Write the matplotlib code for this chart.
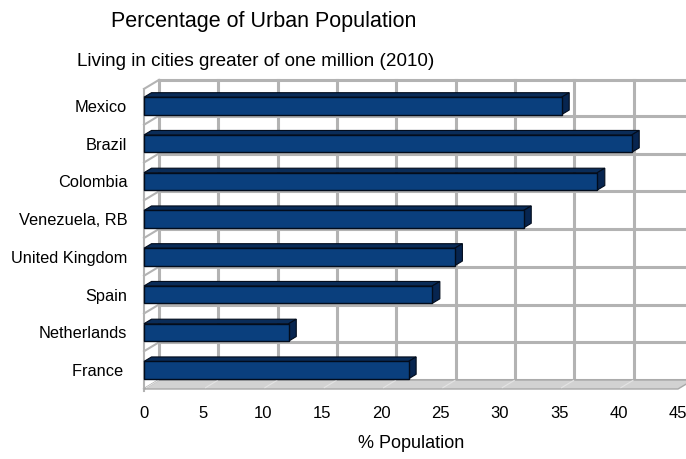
import matplotlib
matplotlib.use("Agg")
import matplotlib.pyplot as plt
from matplotlib.patches import Polygon
from matplotlib.transforms import IdentityTransform

plt.rcParams['font.family'] = ['Liberation Sans', 'DejaVu Sans']

countries = ["Mexico", "Brazil", "Colombia", "Venezuela, RB", "United Kingdom",
             "Spain", "Netherlands", "France "]
values = [35.2, 41.1, 38.2, 32.0, 26.2, 24.3, 12.2, 22.3]
xticks = [0, 5, 10, 15, 20, 25, 30, 35, 40, 45]

W, H = 686, 459
fig = plt.figure(figsize=(W / 100, H / 100), dpi=100)
ax = fig.add_axes([144 / W, 1 - 389 / H, 534 / W, 302 / H])
ax.set_xlim(0, 45)
ax.set_ylim(len(countries) - 0.5, -0.5)
for s in ax.spines.values():
    s.set_visible(False)
ax.set_xticks(xticks)
ax.set_yticks(range(len(countries)))
ax.set_yticklabels(countries)
ax.tick_params(length=0)
ax.tick_params(axis='x', pad=12, labelsize=12)
ax.tick_params(axis='y', pad=12, labelsize=11.8)
ax.set_xlabel("% Population", fontsize=13, labelpad=10)
ax.set_facecolor('none')

# depth offset of back wall in pixels
DX, DY = 15, 9
ident = IdentityTransform()


def P(v, r, d):
    x, y = ax.transData.transform((v, r))
    return (x + d * DX, y + d * DY)


def line(pts, **kw):
    xs = [p[0] for p in pts]
    ys = [p[1] for p in pts]
    ax.plot(xs, ys, transform=ident, clip_on=False, **kw)


def poly(pts, **kw):
    ax.add_patch(Polygon(pts, closed=True, transform=ident, clip_on=False, **kw))


grid_c = '#b3b3b3'
top, bot = -0.5, len(countries) - 0.5
# back wall grid (top edge pulled down a little, as in the reference)
wall_top = -0.45
for v in xticks:
    line([P(v, wall_top, 1), P(v, bot, 1)], color=grid_c, lw=2.2, zorder=1)
for k in range(len(countries) + 1):
    r = wall_top if k == 0 else k - 0.5
    line([P(0, r, 1), P(45, r, 1)], color=grid_c, lw=2.2, zorder=1)
    # left wall
    line([P(0, r, 0), P(0, r, 1)], color=grid_c, lw=1.5, zorder=1)
x0, y0 = P(0, bot, 0)
line([P(0, wall_top, 0), (x0, y0 - 2)], color=grid_c, lw=1.5, zorder=1)

# floor
poly([P(0, bot, 0), P(45, bot, 0), P(45, bot, 1), P(0, bot, 1)],
     facecolor='#d2d2d2', edgecolor='#a8a8a8', lw=1.0, zorder=2)
for v in xticks[:-1]:
    line([P(v, bot, 0.15), P(v, bot, 0.95)], color='#e4e4e4', lw=0.8, zorder=2)

# bars
h = 0.46
for i, v in enumerate(values):
    r0, r1 = i - h / 2, i + h / 2
    poly([P(0, r0, 0), P(v, r0, 0), P(v, r0, 0.5), P(0, r0, 0.5)],
         facecolor='#0a2c58', edgecolor='#020c1c', lw=0.8, zorder=3)
    poly([P(v, r0, 0), P(v, r1, 0), P(v, r1, 0.5), P(v, r0, 0.5)],
         facecolor='#072550', edgecolor='#020c1c', lw=0.8, zorder=3)
    poly([P(0, r0, 0), P(v, r0, 0), P(v, r1, 0), P(0, r1, 0)],
         facecolor='#0a3f7d', edgecolor='#020c1c', lw=1.0, zorder=4)

fig.text(264 / W, 1 - 22 / H, "Percentage of Urban Population", fontsize=15.5,
         ha='center', va='center')
fig.text(256 / W, 1 - 62 / H, "Living in cities greater of one million (2010)",
         fontsize=13.6, ha='center', va='center')

fig.savefig("out.png", dpi=100)
